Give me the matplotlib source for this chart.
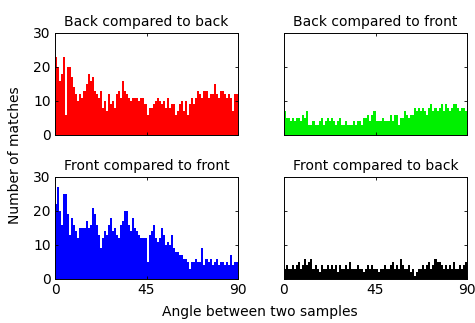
import numpy as np
import matplotlib
matplotlib.use("Agg")
import matplotlib.pyplot as plt

# counts per 1-degree bin, 0..90
back_back = [23, 20, 16, 18, 23, 6, 20, 20, 17, 14, 12, 10, 12, 11, 13, 15,
             18, 16, 17, 13, 12, 11, 13, 8, 10, 7, 12, 9, 10, 8, 12, 13,
             11, 16, 13, 12, 11, 10, 11, 11, 11, 10, 11, 11, 9, 6, 8, 8,
             9, 10, 11, 10, 9, 10, 8, 11, 8, 9, 9, 6, 7, 9, 10, 7,
             10, 6, 9, 11, 9, 11, 13, 12, 11, 13, 13, 11, 12, 12, 15, 12,
             11, 13, 13, 12, 11, 12, 11, 7, 12, 12]
back_front = [7, 5, 5, 4, 5, 4, 5, 5, 4, 6, 5, 7, 3, 3, 4, 3,
              3, 4, 5, 3, 4, 5, 4, 5, 4, 3, 4, 5, 3, 3, 4, 3,
              3, 3, 4, 3, 4, 4, 3, 5, 5, 6, 4, 6, 7, 4, 4, 4,
              5, 4, 4, 4, 6, 4, 6, 6, 3, 5, 5, 7, 6, 5, 6, 6,
              8, 7, 8, 7, 8, 7, 6, 8, 9, 7, 8, 7, 8, 9, 7, 9,
              8, 7, 8, 9, 9, 8, 7, 8, 8, 7]
front_front = [22, 27, 20, 16, 25, 25, 19, 13, 18, 16, 14, 12, 15, 15, 15, 17,
               15, 16, 21, 19, 16, 13, 9, 12, 14, 13, 16, 18, 14, 15, 13, 12,
               16, 17, 20, 20, 16, 14, 18, 15, 14, 13, 12, 12, 12, 5, 13, 14,
               16, 12, 11, 12, 15, 13, 10, 11, 10, 13, 9, 8, 8, 7, 7, 6,
               6, 5, 3, 5, 5, 6, 5, 5, 9, 4, 6, 5, 6, 4, 5, 6,
               4, 5, 5, 4, 5, 4, 7, 4, 5, 5]
front_back = [3, 4, 3, 3, 4, 3, 4, 5, 3, 4, 6, 4, 5, 6, 3, 4,
              3, 2, 4, 3, 3, 4, 3, 4, 3, 4, 2, 4, 3, 3, 4, 3,
              5, 3, 3, 3, 4, 3, 3, 2, 3, 4, 3, 4, 3, 3, 2, 3,
              3, 4, 3, 3, 4, 5, 3, 4, 3, 6, 4, 3, 3, 4, 2, 3,
              1, 2, 3, 3, 4, 3, 4, 5, 3, 4, 6, 5, 5, 4, 3, 4,
              3, 4, 3, 5, 3, 3, 4, 3, 4, 5]

titles = ["Back compared to back", "Back compared to front",
          "Front compared to front", "Front compared to back"]
series = [back_back, back_front, front_front, front_back]
colors = ["#ff0000", "#00f000", "#0000ff", "#000000"]

fig = plt.figure(figsize=(4.75, 3.23), dpi=100)
W, H = 475.0, 323.0
boxes = [(55, 33), (284, 33), (55, 177), (284, 177)]

for i, (title, vals, col) in enumerate(zip(titles, series, colors)):
    x0, y0 = boxes[i]
    ax = fig.add_axes([x0 / W, 1 - (y0 + 102) / H, 183 / W, 102 / H])
    bins = np.arange(len(vals))
    ax.bar(bins, vals, width=1.0, align="edge", color=col, linewidth=0)
    ax.set_xlim(0, 90)
    ax.set_ylim(0, 30)
    ax.set_xticks([0, 45, 90])
    ax.set_yticks([0, 10, 20, 30])
    ax.tick_params(direction="in", top=True, right=True, length=2.5,
                   labelsize=10, width=0.6, pad=3)
    if i < 2:
        ax.set_xticklabels([])
    if i % 2 == 1:
        ax.set_yticklabels([])
    for s in ax.spines.values():
        s.set_linewidth(0.7)
    ax.set_title(title, fontsize=10, pad=5)

fig.text(15 / W, 1 - 155 / H, "Number of matches", rotation=90,
         ha="center", va="center", fontsize=10)
fig.text(260 / W, 1 - 312 / H, "Angle between two samples",
         ha="center", va="center", fontsize=10)

fig.savefig("out.png", dpi=100)
